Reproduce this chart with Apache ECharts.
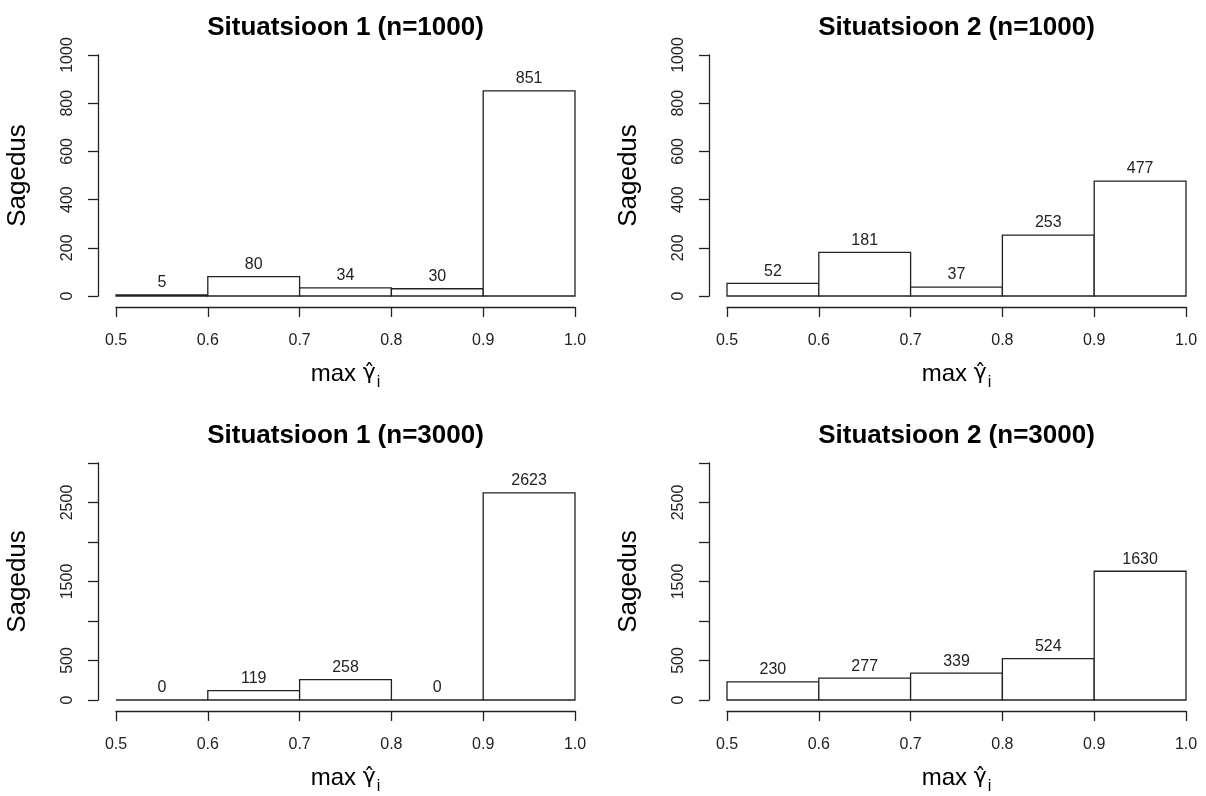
<!DOCTYPE html>
<html>
<head>
<meta charset="utf-8">
<script src="https://cdn.jsdelivr.net/npm/echarts@6/dist/echarts.min.js"></script>
<style>
  html, body { margin: 0; padding: 0; background: #fff; }
  #chart { width: 1206px; height: 796px; }
</style>
</head>
<body>
<div id="chart"></div>
<script>
// histogram bins (breaks) and counts per panel
const breaks = [0.5, 0.6, 0.7, 0.8, 0.9, 1.0]
const titles = ['Situatsioon 1 (n=1000)', 'Situatsioon 2 (n=1000)', 'Situatsioon 1 (n=3000)', 'Situatsioon 2 (n=3000)']
const counts1_1000 = [5, 80, 34, 30, 851]
const counts2_1000 = [52, 181, 37, 253, 477]
const counts1_3000 = [0, 119, 258, 0, 2623]
const counts2_3000 = [230, 277, 339, 524, 1630]
const yMax = [1000, 1000, 3000, 3000]
const yStep = [200, 200, 500, 500]
const yHidden = [1000, 2000, 3000] // R drops these labels on the 3000 panels

const allCounts = [counts1_1000, counts2_1000, counts1_3000, counts2_3000]

const FONT = 'Liberation Sans, Arial, sans-serif'
const INK = '#222'

const chart = echarts.init(document.getElementById('chart'))

const gridPos = [
  { left: 116, top: 55 },
  { left: 727, top: 55 },
  { left: 116, top: 463 },
  { left: 727, top: 463 },
]

const toBins = (c) => c.map((v, i) => [breaks[i], breaks[i + 1], v])

const renderBar = (params, api) => {
  const x0 = api.value(0)
  const x1 = api.value(1)
  const v = api.value(2)
  const p0 = api.coord([x0, 0])
  const p1 = api.coord([x1, v])
  return {
    type: 'group',
    children: [
      {
        type: 'rect',
        shape: { x: p0[0], y: p1[1], width: p1[0] - p0[0], height: p0[1] - p1[1] },
        style: { fill: '#fff', stroke: INK, lineWidth: 1.3 },
      },
      {
        type: 'text',
        x: (p0[0] + p1[0]) / 2,
        y: p1[1] - 12,
        style: {
          text: String(v),
          align: 'center',
          verticalAlign: 'middle',
          font: '16px ' + FONT,
          fill: INK,
        },
      },
    ],
  }
}

const option = {
  animation: false,
  backgroundColor: '#fff',
  title: gridPos.map((g, i) => ({
    text: titles[i],
    left: g.left + 229.5,
    top: g.top - 40,
    textAlign: 'center',
    padding: 0,
    textStyle: { fontFamily: FONT, fontSize: 26, fontWeight: 'bold', color: '#000' },
  })),
  grid: gridPos.map((g) => ({ left: g.left, top: g.top, width: 459, height: 241, containLabel: false })),
  xAxis: gridPos.map((g, i) => ({
    type: 'value',
    gridIndex: i,
    min: 0.5,
    max: 1.0,
    interval: 0.1,
    offset: 11,
    splitLine: { show: false },
    axisLine: { show: true, onZero: false, lineStyle: { color: INK, width: 1.3 } },
    axisTick: { show: true, length: 10, lineStyle: { color: INK, width: 1.3 } },
    axisLabel: {
      margin: 26,
      fontFamily: FONT,
      fontSize: 16,
      color: INK,
      formatter: (v) => v.toFixed(1),
    },
    name: '{a|max }{b|γ̂}{c|i}',
    nameLocation: 'middle',
    nameGap: 55,
    nameTextStyle: {
      rich: {
        a: { fontFamily: FONT, fontSize: 24, lineHeight: 28, verticalAlign: 'top', color: '#000' },
        b: { fontFamily: 'DejaVu Sans', fontSize: 22, lineHeight: 28, verticalAlign: 'top', color: '#000' },
        c: { fontFamily: FONT, fontSize: 16, lineHeight: 18, padding: [13, 0, 0, 1], verticalAlign: 'top', color: '#000' },
      },
    },
  })),
  yAxis: gridPos.map((g, i) => ({
    type: 'value',
    gridIndex: i,
    min: 0,
    max: yMax[i],
    interval: yStep[i],
    offset: 18,
    splitLine: { show: false },
    axisLine: { show: true, onZero: false, lineStyle: { color: INK, width: 1.3 } },
    axisTick: { show: true, length: 10, lineStyle: { color: INK, width: 1.3 } },
    axisLabel: {
      rotate: 90,
      margin: 22,
      fontFamily: FONT,
      fontSize: 16,
      color: INK,
      formatter: (v) => (yMax[i] === 3000 && yHidden.includes(v) ? '' : String(v)),
    },
    name: 'Sagedus',
    nameLocation: 'middle',
    nameRotate: 90,
    nameGap: 67,
    nameTextStyle: { fontFamily: FONT, fontSize: 26, color: '#000' },
  })),
  series: allCounts.map((c, i) => ({
    type: 'custom',
    xAxisIndex: i,
    yAxisIndex: i,
    renderItem: renderBar,
    encode: { x: [0, 1], y: 2 },
    data: toBins(c),
  })),
}

chart.setOption(option)
</script>
</body>
</html>
